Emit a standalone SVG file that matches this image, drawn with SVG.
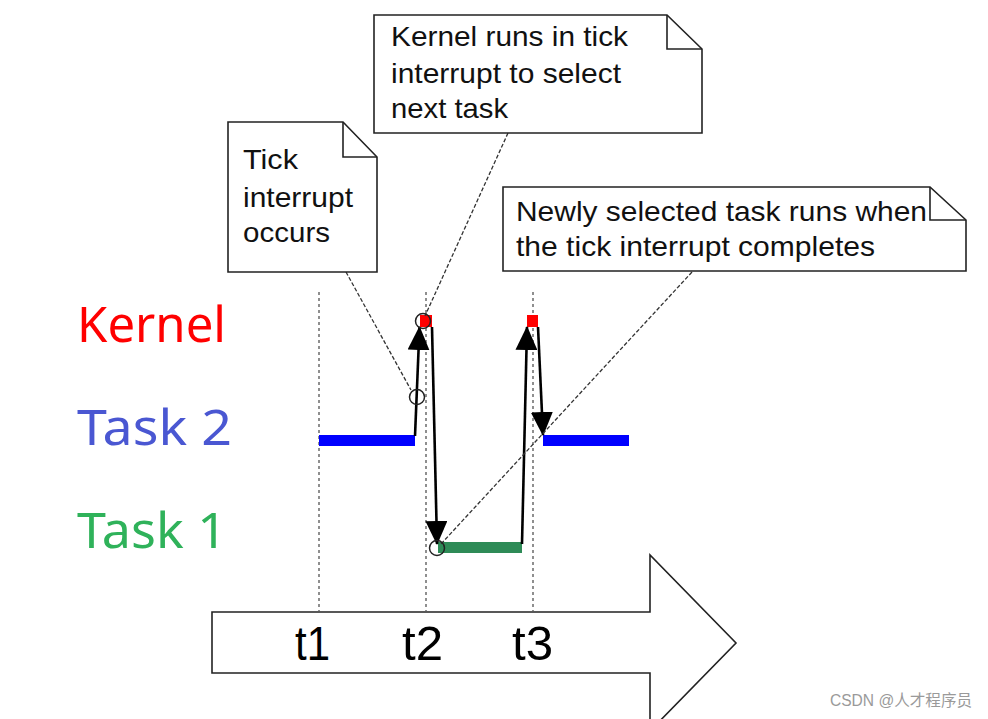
<svg xmlns="http://www.w3.org/2000/svg" width="988" height="719" viewBox="0 0 988 719">
<style>
.note{fill:#fff;stroke:#222;stroke-width:1.6;stroke-linejoin:miter}
.fold{fill:none;stroke:#222;stroke-width:1.6}
.nt{font-family:"Liberation Sans",Arial,sans-serif;font-size:28px;fill:#111}
.lbl{font-family:"Noto Sans","Open Sans",sans-serif;font-size:50px}
.tl{font-family:"Liberation Sans",Arial,sans-serif;font-size:48px;fill:#000}
.grid{stroke:#8f8f8f;stroke-width:2;stroke-dasharray:3 3;fill:none}
.lead{stroke:#333;stroke-width:1.3;stroke-dasharray:4 2;fill:none}
.arr{stroke:#000;stroke-width:2.6;fill:none;marker-end:url(#ah)}
.ring{fill:none;stroke:#222;stroke-width:1.5}
</style>
<defs>
<marker id="ah" markerUnits="userSpaceOnUse" markerWidth="24" markerHeight="22" viewBox="0 0 24 22" refX="23" refY="11" orient="auto">
<path d="M0,0 L24,11 L0,22 Z" fill="#000"/>
</marker>
</defs>
<rect width="988" height="719" fill="#fff"/>

<g id="labels">
<text class="lbl" x="77" y="342" fill="#ff0000" textLength="149" lengthAdjust="spacingAndGlyphs">Kernel</text>
<text class="lbl" x="77" y="445" fill="#4a57d2" textLength="155" lengthAdjust="spacingAndGlyphs">Task 2</text>
<text class="lbl" x="77" y="548" fill="#2fb25a" textLength="150" lengthAdjust="spacingAndGlyphs">Task 1</text>
</g>

<g id="timeline">
<path class="note" stroke="#333" stroke-width="2" d="M212,612 H650 V555 L736,643 L650,731 V673 H212 Z"/>
<text class="tl" x="295" y="660" textLength="35" lengthAdjust="spacingAndGlyphs">t1</text>
<text class="tl" x="402" y="660" textLength="41" lengthAdjust="spacingAndGlyphs">t2</text>
<text class="tl" x="512" y="660" textLength="41" lengthAdjust="spacingAndGlyphs">t3</text>
</g>

<g id="grid">
<line class="grid" x1="319" y1="292" x2="319" y2="611"/>
<line class="grid" x1="426" y1="292" x2="426" y2="611"/>
<line class="grid" x1="533" y1="292" x2="533" y2="611"/>
</g>

<g id="bars">
<rect x="319" y="435" width="96" height="11" fill="#0000ff"/>
<rect x="543" y="435" width="86" height="11" fill="#0000ff"/>
<rect x="438" y="542" width="84" height="11" fill="#2e8b57"/>
<rect x="420" y="315" width="12" height="12" fill="#ff0000"/>
<rect x="527" y="315" width="11" height="12" fill="#ff0000"/>
</g>

<g id="connectors">
<path class="arr" d="M415,436 L419.5,327"/>
<path class="arr" d="M432,327 L437,544"/>
<path class="arr" d="M522,544 L527,327"/>
<path class="arr" d="M538,327 L543,435"/>
<path class="lead" d="M346,272 L411,390"/>
<path class="lead" d="M508,133 L425,316"/>
<path class="lead" d="M692,272 L441,544"/>
</g>

<g id="markers">
<circle class="ring" cx="417" cy="397" r="7.5"/>
<circle class="ring" cx="423" cy="321" r="7.5"/>
<circle class="ring" cx="437" cy="548" r="7.5"/>
</g>

<g id="note-kernel">
<path class="note" d="M374,15 H667 L702,49 V133 H374 Z"/>
<path class="fold" d="M667,15 V49 H702"/>
<text class="nt" x="391" y="46" textLength="237" lengthAdjust="spacingAndGlyphs">Kernel runs in tick</text>
<text class="nt" x="391" y="83" textLength="230" lengthAdjust="spacingAndGlyphs">interrupt to select</text>
<text class="nt" x="391" y="118" textLength="117" lengthAdjust="spacingAndGlyphs">next task</text>
</g>

<g id="note-tick">
<path class="note" d="M228,122 H343 L377,157 V272 H228 Z"/>
<path class="fold" d="M343,122 V157 H377"/>
<text class="nt" x="243" y="169" textLength="55" lengthAdjust="spacingAndGlyphs">Tick</text>
<text class="nt" x="243" y="207" textLength="110" lengthAdjust="spacingAndGlyphs">interrupt</text>
<text class="nt" x="243" y="242" textLength="87" lengthAdjust="spacingAndGlyphs">occurs</text>
</g>

<g id="note-newly">
<path class="note" d="M503,187 H930 L966,220 V271 H503 Z"/>
<path class="fold" d="M930,187 V220 H966"/>
<text class="nt" x="516" y="221" textLength="411" lengthAdjust="spacingAndGlyphs">Newly selected task runs when</text>
<text class="nt" x="516" y="256" textLength="359" lengthAdjust="spacingAndGlyphs">the tick interrupt completes</text>
</g>

<text x="830" y="706" font-family="'Liberation Sans','Noto Sans CJK SC',sans-serif" font-size="16" fill="#9a9a9a" textLength="142" lengthAdjust="spacingAndGlyphs">CSDN @人才程序员</text>
</svg>
